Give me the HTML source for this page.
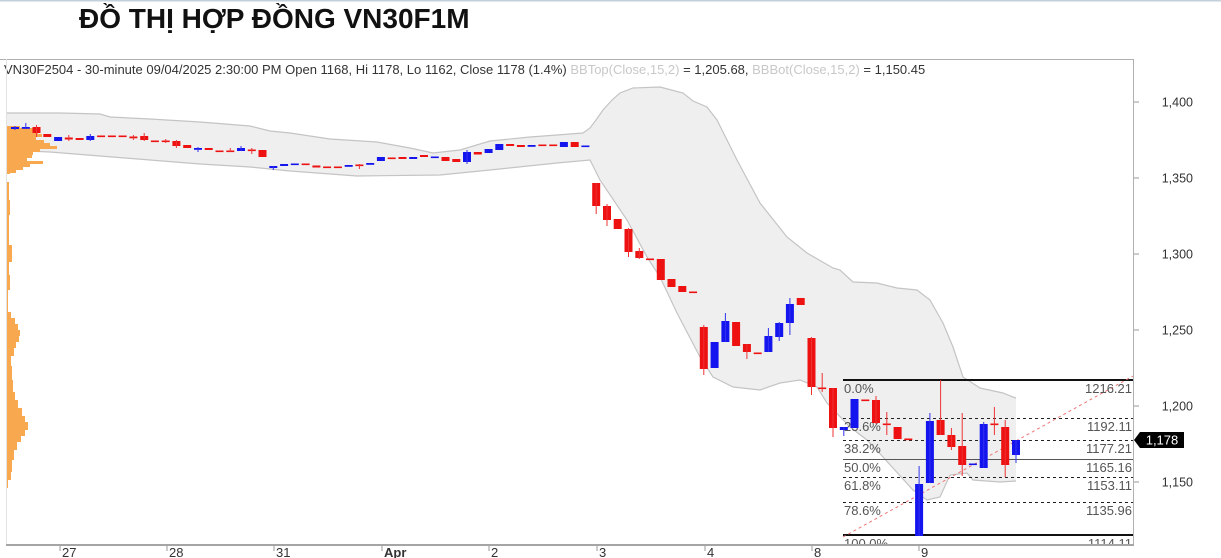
<!DOCTYPE html>
<html><head><meta charset="utf-8">
<style>
html,body{margin:0;padding:0;background:#fff;width:1221px;height:558px;overflow:hidden}
svg{display:block;font-family:"Liberation Sans",Arial,sans-serif}
</style></head>
<body>
<svg width="1221" height="558" viewBox="0 0 1221 558" xmlns="http://www.w3.org/2000/svg">
<defs><clipPath id="pc"><rect x="6" y="60" width="1127" height="484"/></clipPath></defs>
<rect x="0" y="0" width="1221" height="558" fill="#fff"/>
<rect x="0" y="0" width="1221" height="1.5" fill="#c3cfdb"/>
<text x="79" y="28" font-size="28" font-weight="bold" fill="#111">ĐỒ THỊ HỢP ĐỒNG VN30F1M</text>
<text x="4" y="74" font-size="13" fill="#333">VN30F2504 - 30-minute 09/04/2025 2:30:00 PM Open 1168, Hi 1178, Lo 1162, Close 1178 (1.4%) <tspan fill="#c8c8c8">BBTop(Close,15,2)</tspan> = 1,205.68, <tspan fill="#c8c8c8">BBBot(Close,15,2)</tspan> = 1,150.45</text>

<g clip-path="url(#pc)">
<!-- Bollinger band -->
<polygon fill="#efefef" points="6,113 60,113 100,114 110,117 150,119 200,122 250,126 270,131 290,133 330,139 377,142 410,148 433,153 460,150 490,141 530,137 557,135 583,133 590,128 596,120 603,110 612,100 620,93 633,88 660,87 683,93 693,101 707,107 717,120 737,160 760,203 787,237 807,253 833,268 840,270 853,282 877,283 897,288 917,290 930,300 943,323 953,347 963,377 980,388 1003,393 1013,397 1016,398 1016,481 1000,482 973,480 967,473 950,475 940,497 927,500 913,490 883,457 867,440 850,427 827,403 817,387 800,380 780,383 760,390 733,387 713,377 700,357 677,313 660,277 647,257 627,220 600,180 590,160 557,163 490,170 440,175 357,176 290,171 250,167 200,164 150,160 100,156 50,152 6,150"/>
<polyline fill="none" stroke="#c4c4c4" stroke-width="1.2" points="6,113 60,113 100,114 110,117 150,119 200,122 250,126 270,131 290,133 330,139 377,142 410,148 433,153 460,150 490,141 530,137 557,135 583,133 590,128 596,120 603,110 612,100 620,93 633,88 660,87 683,93 693,101 707,107 717,120 737,160 760,203 787,237 807,253 833,268 840,270 853,282 877,283 897,288 917,290 930,300 943,323 953,347 963,377 980,388 1003,393 1013,397 1016,398"/>
<polyline fill="none" stroke="#c4c4c4" stroke-width="1.2" points="6,150 50,152 100,156 150,160 200,164 250,167 290,171 357,176 440,175 490,170 557,163 590,160 600,180 627,220 647,257 660,277 677,313 700,357 713,377 733,387 760,390 780,383 800,380 817,387 827,403 850,427 867,440 883,457 913,490 927,500 940,497 950,475 967,473 973,480 1000,482 1016,481"/>

<!-- volume profile -->
<g fill="#f8a84e">
<rect x="6" y="126" width="14" height="2"/>
<rect x="6" y="128" width="27" height="3"/>
<rect x="6" y="131" width="32" height="3"/>
<rect x="6" y="134" width="36" height="3"/>
<rect x="6" y="137" width="30" height="3"/>
<rect x="6" y="140" width="38" height="3"/>
<rect x="6" y="143" width="44" height="3"/>
<rect x="6" y="146" width="51" height="3"/>
<rect x="6" y="149" width="34" height="3"/>
<rect x="6" y="152" width="27" height="3"/>
<rect x="6" y="155" width="26" height="3"/>
<rect x="6" y="158" width="21" height="3"/>
<rect x="6" y="161" width="37" height="3"/>
<rect x="6" y="164" width="24" height="3"/>
<rect x="6" y="167" width="17" height="3"/>
<rect x="6" y="170" width="10" height="3"/>
<rect x="6" y="173" width="4" height="1"/>
<rect x="6" y="182" width="3" height="18"/>
<rect x="6" y="200" width="4" height="15"/>
<rect x="6" y="215" width="3" height="30"/>
<rect x="6" y="245" width="6" height="17"/>
<rect x="6" y="262" width="3" height="13"/>
<rect x="6" y="275" width="4" height="15"/>
<rect x="6" y="290" width="2" height="22"/>
<rect x="6" y="312" width="5" height="6"/>
<rect x="6" y="318" width="9" height="6"/>
<rect x="6" y="324" width="12" height="6"/>
<rect x="6" y="330" width="14" height="6"/>
<rect x="6" y="336" width="13" height="6"/>
<rect x="6" y="342" width="10" height="6"/>
<rect x="6" y="348" width="8" height="8"/>
<rect x="6" y="356" width="5" height="10"/>
<rect x="6" y="366" width="6" height="14"/>
<rect x="6" y="380" width="7" height="12"/>
<rect x="6" y="392" width="9" height="8"/>
<rect x="6" y="400" width="12" height="8"/>
<rect x="6" y="408" width="16" height="8"/>
<rect x="6" y="416" width="19" height="6"/>
<rect x="6" y="422" width="22" height="8"/>
<rect x="6" y="430" width="19" height="6"/>
<rect x="6" y="436" width="15" height="6"/>
<rect x="6" y="442" width="11" height="8"/>
<rect x="6" y="450" width="8" height="10"/>
<rect x="6" y="460" width="6" height="12"/>
<rect x="6" y="472" width="5" height="8"/>
<rect x="6" y="480" width="2" height="8"/>
</g>

<!-- Fibonacci -->
<g>
<line x1="843" y1="380" x2="1133" y2="380" stroke="#111" stroke-width="2"/>
<line x1="843" y1="418.5" x2="1133" y2="418.5" stroke="#222" stroke-width="1" stroke-dasharray="3,3"/>
<line x1="843" y1="440.5" x2="1133" y2="440.5" stroke="#222" stroke-width="1" stroke-dasharray="3,3"/>
<line x1="843" y1="459.5" x2="1133" y2="459.5" stroke="#555" stroke-width="1"/>
<line x1="843" y1="477.5" x2="1133" y2="477.5" stroke="#222" stroke-width="1" stroke-dasharray="3,3"/>
<line x1="843" y1="502.5" x2="1133" y2="502.5" stroke="#222" stroke-width="1" stroke-dasharray="3,3"/>
<line x1="843" y1="535" x2="1133" y2="535" stroke="#111" stroke-width="2"/>
<line x1="843" y1="537" x2="1133" y2="376" stroke="#ee7777" stroke-width="1" stroke-dasharray="3,3"/>
<g font-size="13" fill="#555">
<text x="844" y="393">0.0%</text>
<text x="844" y="431">23.6%</text>
<text x="844" y="453">38.2%</text>
<text x="844" y="472">50.0%</text>
<text x="844" y="490">61.8%</text>
<text x="844" y="515">78.6%</text>
<text x="844" y="548">100.0%</text>
</g>
<g font-size="13" fill="#555" text-anchor="end">
<text x="1132" y="393">1216.21</text>
<text x="1132" y="431">1192.11</text>
<text x="1132" y="453">1177.21</text>
<text x="1132" y="472">1165.16</text>
<text x="1132" y="490">1153.11</text>
<text x="1132" y="515">1135.96</text>
<text x="1132" y="548">1114.11</text>
</g>
</g>

<!-- red candles -->
<g fill="#ee1111" stroke="none">
<rect x="32.5" y="127" width="8" height="6"/><rect x="43.3" y="134" width="8" height="3"/>
<rect x="64.8" y="137.5" width="8" height="2"/><rect x="75.6" y="138" width="8" height="2"/>
<rect x="97.1" y="135.5" width="8" height="1.6"/><rect x="107.9" y="135.5" width="8" height="1.6"/><rect x="118.6" y="135.5" width="8" height="1.6"/>
<rect x="129.4" y="136.5" width="8" height="1.8"/><rect x="140.2" y="136" width="8" height="4"/>
<rect x="150.9" y="140.5" width="8" height="1.6"/><rect x="161.7" y="140.5" width="8" height="1.6"/>
<rect x="172.4" y="141" width="8" height="5"/><rect x="183.2" y="145" width="8" height="3"/>
<rect x="204.7" y="148" width="8" height="2"/><rect x="215.5" y="150.5" width="8" height="1.6"/><rect x="226.3" y="150.5" width="8" height="1.6"/>
<rect x="247.8" y="149.5" width="8" height="1.6"/><rect x="258.5" y="150" width="8" height="7"/>
<rect x="301.6" y="163.5" width="8" height="1.6"/><rect x="312.4" y="165.5" width="8" height="2"/>
<rect x="323.1" y="166.5" width="8" height="1.6"/><rect x="333.9" y="166.5" width="8" height="1.6"/>
<rect x="355.4" y="164.5" width="8" height="1.6"/>
<rect x="387.7" y="157.5" width="8" height="1.6"/><rect x="398.5" y="157" width="8" height="2"/>
<rect x="420" y="155" width="8" height="2"/><rect x="441.5" y="157" width="8" height="4"/><rect x="452.3" y="159" width="8" height="3"/>
<rect x="473.8" y="152" width="8" height="2.5"/>
<rect x="506.1" y="144" width="8" height="2"/><rect x="516.9" y="145" width="8" height="2"/>
<rect x="538.4" y="144.5" width="8" height="1.6"/><rect x="549.2" y="144.5" width="8" height="1.6"/>
<rect x="570.7" y="142" width="8" height="5"/>
<rect x="592.2" y="183" width="8" height="23"/><rect x="603" y="206" width="8" height="14"/>
<rect x="613.7" y="219" width="8" height="10"/><rect x="624.5" y="229" width="8" height="23"/>
<rect x="635.3" y="251" width="8" height="7"/><rect x="646" y="258.5" width="8" height="1.6"/>
<rect x="656.8" y="259" width="8" height="21"/><rect x="667.5" y="279" width="8" height="8"/>
<rect x="678.3" y="286" width="8" height="6"/><rect x="689.1" y="291.5" width="8" height="1.6"/>
<rect x="699.8" y="327" width="8" height="42"/>
<rect x="732.1" y="322" width="8" height="24"/><rect x="742.9" y="344" width="8" height="8"/>
<rect x="753.7" y="352.5" width="8" height="1.6"/>
<rect x="796.7" y="298" width="8" height="7"/>
<rect x="807.5" y="338" width="8" height="49"/><rect x="818.2" y="387.5" width="8" height="1.6"/>
<rect x="829" y="388" width="8" height="40"/>
<rect x="861.3" y="399.5" width="8" height="1.6"/><rect x="872" y="400" width="8" height="23"/>
<rect x="882.8" y="423.5" width="8" height="1.6"/><rect x="893.6" y="427" width="8" height="12"/>
<rect x="904.3" y="438.5" width="8" height="1.6"/>
<rect x="936.6" y="420" width="8" height="15"/><rect x="947.4" y="435" width="8" height="12"/>
<rect x="958.2" y="446" width="8" height="19"/>
<rect x="990.4" y="423.5" width="8" height="1.6"/><rect x="1001.2" y="427" width="8" height="38"/>
</g>
<g stroke="#ee3333" stroke-width="1" fill="none">
<path d="M36.5 125V137M68.8 135V141M133.4 135V140M144.2 133V141M165.7 139V143M176.4 140V148M230.3 148V152M251.8 148V154M359.4 164V169M596.2 183V214M607 204V226M628.5 228V257M639.3 248V259M703.8 325V375M746.9 344V359M811.5 337V395M822.2 373V392M833 388V437M876 396V424M886.8 412V435M940.6 380V435M951.4 428V450M962.2 413V476M994.4 407V435M1005.2 420V477"/>
</g>

<!-- blue candles -->
<g fill="#1414ee" stroke="none">
<rect x="11" y="127" width="8" height="2"/><rect x="21.8" y="127" width="8" height="1.8"/>
<rect x="54.1" y="137" width="8" height="4"/><rect x="86.3" y="136" width="8" height="4"/>
<rect x="194" y="148" width="8" height="1.8"/><rect x="237" y="148" width="8" height="3"/>
<rect x="269.3" y="166" width="8" height="2"/><rect x="280.1" y="164" width="8" height="2"/>
<rect x="290.8" y="163.5" width="8" height="1.6"/><rect x="344.7" y="165" width="8" height="1.8"/>
<rect x="366.2" y="163" width="8" height="1.8"/><rect x="376.9" y="157" width="8" height="4"/>
<rect x="409.2" y="157" width="8" height="2"/><rect x="430.8" y="156.5" width="8" height="1.6"/>
<rect x="463" y="152" width="8" height="10"/><rect x="484.6" y="149" width="8" height="4"/>
<rect x="495.3" y="144" width="8" height="6"/><rect x="527.6" y="145" width="8" height="1.8"/>
<rect x="559.9" y="142" width="8" height="5"/><rect x="581.4" y="145.5" width="8" height="1.6"/>
<rect x="710.6" y="342" width="8" height="26"/><rect x="721.4" y="321" width="8" height="21"/>
<rect x="764.4" y="336" width="8" height="16"/><rect x="775.2" y="323" width="8" height="14"/>
<rect x="785.9" y="304" width="8" height="19"/>
<rect x="839.8" y="427" width="8" height="3"/><rect x="850.5" y="399" width="8" height="29"/>
<rect x="915.1" y="484" width="8" height="52"/><rect x="925.9" y="421" width="8" height="62"/>
<rect x="968.9" y="463.5" width="8" height="1.6"/><rect x="979.7" y="424" width="8" height="44"/>
<rect x="1012" y="440" width="8" height="15"/>
</g>
<g stroke="#3333ee" stroke-width="1" fill="none">
<path d="M15 126V130M25.8 123V129M90.3 134V141M198 147V152M241 146V151M273.3 166V170M467 150V164M725.4 313V342M768.4 328V352M779.2 322V341M789.9 298V335M843.8 427V436M919.1 466V536M929.9 413V483M983.7 422V468M1016 440V463"/>
</g>
</g>

<!-- frame -->
<line x1="0" y1="59.5" x2="1134" y2="59.5" stroke="#b0b0b0" stroke-width="1"/>
<line x1="1133.5" y1="59" x2="1133.5" y2="545" stroke="#b0b0b0" stroke-width="1"/>
<line x1="6.5" y1="59" x2="6.5" y2="545" stroke="#e2e2e2" stroke-width="1"/>
<line x1="6" y1="545" x2="1134" y2="545" stroke="#a5a5a5" stroke-width="2"/>

<!-- y axis -->
<g stroke="#999" stroke-width="1">
<line x1="1134" y1="102" x2="1139" y2="102"/><line x1="1134" y1="178" x2="1139" y2="178"/>
<line x1="1134" y1="254" x2="1139" y2="254"/><line x1="1134" y1="330" x2="1139" y2="330"/>
<line x1="1134" y1="406" x2="1139" y2="406"/><line x1="1134" y1="482" x2="1139" y2="482"/>
</g>
<g font-size="12.5" fill="#333" text-anchor="end">
<text x="1193" y="106.5">1,400</text><text x="1193" y="182.5">1,350</text>
<text x="1193" y="258.5">1,300</text><text x="1193" y="334.5">1,250</text>
<text x="1193" y="410.5">1,200</text><text x="1193" y="486.5">1,150</text>
</g>
<polygon points="1134,440 1140,432 1184,432 1184,448 1140,448" fill="#000"/>
<text x="1162" y="444.5" font-size="13" fill="#fff" text-anchor="middle">1,178</text>

<!-- x axis -->
<g stroke="#999" stroke-width="1">
<line x1="60" y1="546" x2="60" y2="551"/><line x1="167" y1="546" x2="167" y2="551"/>
<line x1="274" y1="546" x2="274" y2="551"/><line x1="382" y1="546" x2="382" y2="551"/>
<line x1="489" y1="546" x2="489" y2="551"/><line x1="597" y1="546" x2="597" y2="551"/>
<line x1="705" y1="546" x2="705" y2="551"/><line x1="812" y1="546" x2="812" y2="551"/>
<line x1="919" y1="546" x2="919" y2="551"/>
</g>
<g font-size="13" fill="#333">
<text x="62" y="557">27</text><text x="169" y="557">28</text><text x="276" y="557">31</text>
<text x="384" y="557" font-weight="bold">Apr</text><text x="491" y="557">2</text>
<text x="599" y="557">3</text><text x="707" y="557">4</text><text x="814" y="557">8</text>
<text x="921" y="557">9</text>
</g>
</svg>
</body></html>
